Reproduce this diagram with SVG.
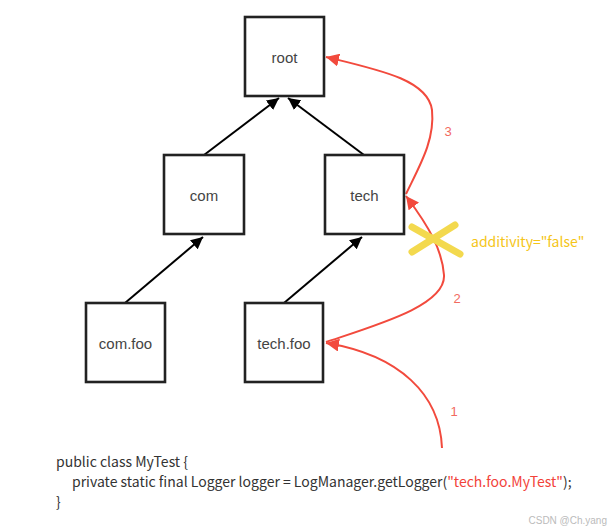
<svg xmlns="http://www.w3.org/2000/svg" width="616" height="531" viewBox="0 0 616 531">
<style>
.box{fill:#fff;stroke:#222;stroke-width:2.6}
.lbl{font-family:"Liberation Sans",Arial,sans-serif;font-size:15px;fill:#444;text-anchor:middle;dominant-baseline:central}
.blk{stroke:#000;stroke-width:2;fill:none;marker-end:url(#ab)}
.red{stroke:#f24a3d;stroke-width:2;fill:none}
.num{font-family:"Liberation Sans",Arial,sans-serif;font-size:13px;fill:#f26a5f;text-anchor:middle;dominant-baseline:central}
.code{font-family:"Noto Sans CJK SC","Noto Sans",sans-serif;font-size:14px;fill:#333}
.x{stroke:#f3d94e;stroke-width:7;stroke-linecap:round;fill:none}
</style>
<defs>
<marker id="ab" viewBox="0 0 10 10" refX="10" refY="5" markerWidth="12" markerHeight="12" markerUnits="userSpaceOnUse" orient="auto"><path d="M0,0L10,5L0,10z" fill="#000"/></marker>
<marker id="ar" viewBox="0 0 10 10" refX="10" refY="5" markerWidth="13" markerHeight="13" markerUnits="userSpaceOnUse" orient="auto"><path d="M0,0L10,5L0,10z" fill="#f24a3d"/></marker>
</defs>
<g id="connectors">
<path class="blk" d="M204,155L279,98"/>
<path class="blk" d="M364,155L288,98"/>
<path class="blk" d="M125,303L203,237"/>
<path class="blk" d="M284,303L362,237"/>
<path class="red" marker-end="url(#ar)" d="M442,448C440,395 400,355 326,343"/>
<path class="red" marker-end="url(#ar)" d="M326,342C380,324 446,305 444,275C442,250 430,228 406,196"/>
<path class="red" marker-end="url(#ar)" d="M406,194C420,165 435,140 432,110C428,80 380,70 326,57"/>
</g>
<g id="root"><rect class="box" x="245" y="17" width="79" height="79"/><text class="lbl" x="284.5" y="57">root</text></g>
<g id="com"><rect class="box" x="164" y="155" width="80" height="79"/><text class="lbl" x="204" y="195">com</text></g>
<g id="tech"><rect class="box" x="325" y="155" width="79" height="79"/><text class="lbl" x="364.5" y="195">tech</text></g>
<g id="com.foo"><rect class="box" x="86" y="303" width="79" height="79"/><text class="lbl" x="125.5" y="343">com.foo</text></g>
<g id="tech.foo"><rect class="box" x="245" y="303" width="78" height="79"/><text class="lbl" x="284" y="343">tech.foo</text></g>
<g id="labels">
<text class="num" x="448" y="131">3</text>
<text class="num" x="457" y="298">2</text>
<text class="num" x="454" y="411">1</text>
</g>
<g id="additivity">
<path class="x" d="M412,227L460,254"/>
<path class="x" d="M412,252L455,225"/>
<text x="471" y="247" font-family="Noto Sans CJK SC,Noto Sans,sans-serif" font-size="14" fill="#f5c518">additivity="false"</text>
</g>
<g id="code">
<text class="code" x="56" y="467">public class MyTest {</text>
<text class="code" x="72" y="487">private static final Logger logger = LogManager.getLogger(<tspan fill="#f2433a">"tech.foo.MyTest"</tspan>);</text>
<text class="code" x="56" y="507">}</text>
</g>
<text x="607" y="524" text-anchor="end" font-family="Liberation Sans,Arial,sans-serif" font-size="10" fill="#bbb">CSDN @Ch.yang</text>
</svg>
